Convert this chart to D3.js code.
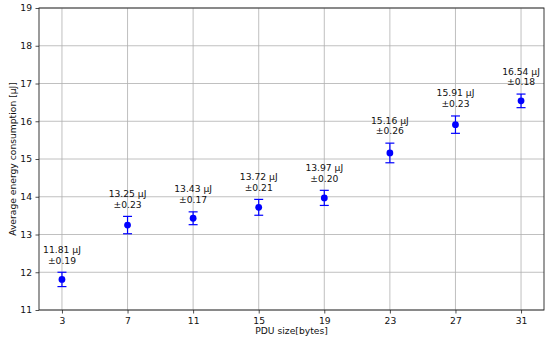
<!DOCTYPE html>
<html><head><meta charset="utf-8">
<script src="https://cdn.jsdelivr.net/npm/d3@7"></script>
<style>body{margin:0;background:#fff}svg{display:block}text{font-family:"DejaVu Sans",sans-serif}</style>
</head><body>
<svg id="c" width="550" height="345"></svg>
<script>
const pduSizes = [3, 7, 11, 15, 19, 23, 27, 31];
const energyMean = [11.81, 13.25, 13.43, 13.72, 13.97, 15.16, 15.91, 16.54];
const energyErr = [0.19, 0.23, 0.17, 0.21, 0.20, 0.26, 0.23, 0.18];
const yTicks = [11, 12, 13, 14, 15, 16, 17, 18, 19];

const svg = d3.select("#c");
const L = 39, R = 544, T = 8, B = 310;
const FS = 9.2;
const x = d3.scaleLinear().domain([1.6, 32.4]).range([L, R]);
const y = d3.scaleLinear().domain([11, 19]).range([B, T]);

// grid
const g = svg.append("g");
g.selectAll("line.vx").data(pduSizes).join("line")
  .attr("x1", d => x(d)).attr("x2", d => x(d)).attr("y1", T).attr("y2", B)
  .attr("stroke", "#b0b0b0").attr("stroke-width", 0.8);
g.selectAll("line.hy").data(yTicks).join("line")
  .attr("y1", d => y(d)).attr("y2", d => y(d)).attr("x1", L).attr("x2", R)
  .attr("stroke", "#b0b0b0").attr("stroke-width", 0.8);

// axes
const xa = svg.append("g").attr("transform", `translate(0,${B})`)
  .call(d3.axisBottom(x).tickValues(pduSizes).tickSize(3.5).tickPadding(3.5).tickFormat(d3.format("d")));
const ya = svg.append("g").attr("transform", `translate(${L},0)`)
  .call(d3.axisLeft(y).tickValues(yTicks).tickSize(3.5).tickPadding(3.5).tickFormat(d3.format("d")));
[xa, ya].forEach(a => {
  a.select(".domain").remove();
  a.selectAll("text").attr("font-size", FS).attr("fill", "#111").style("font-family", "DejaVu Sans");
  a.selectAll("line").attr("stroke", "#222").attr("stroke-width", 0.8);
});
svg.append("rect").attr("x", L).attr("y", T).attr("width", R - L).attr("height", B - T)
  .attr("fill", "none").attr("stroke", "#222").attr("stroke-width", 0.9);

// error bars
const data = pduSizes.map((p, i) => ({p, m: energyMean[i], e: energyErr[i]}));
const eb = svg.append("g").attr("stroke", "#0000ff").attr("stroke-width", 1.2);
data.forEach(d => {
  eb.append("line").attr("x1", x(d.p)).attr("x2", x(d.p)).attr("y1", y(d.m - d.e)).attr("y2", y(d.m + d.e));
  eb.append("line").attr("x1", x(d.p) - 4.5).attr("x2", x(d.p) + 4.5).attr("y1", y(d.m - d.e)).attr("y2", y(d.m - d.e));
  eb.append("line").attr("x1", x(d.p) - 4.5).attr("x2", x(d.p) + 4.5).attr("y1", y(d.m + d.e)).attr("y2", y(d.m + d.e));
});
svg.append("g").selectAll("circle").data(data).join("circle")
  .attr("cx", d => x(d.p)).attr("cy", d => y(d.m)).attr("r", 3.4).attr("fill", "#0000ff");

// annotations
const an = svg.append("g").attr("font-size", FS).attr("fill", "#111").attr("text-anchor", "middle");
data.forEach(d => {
  const yt = y(d.m + d.e);
  an.append("text").attr("x", x(d.p)).attr("y", yt - 19.5).text(d.m.toFixed(2) + " μJ");
  an.append("text").attr("x", x(d.p)).attr("y", yt - 8.7).text("±" + d.e.toFixed(2));
});

// axis labels
svg.append("text").attr("x", (L + R) / 2).attr("y", 334).attr("text-anchor", "middle")
  .attr("font-size", FS).attr("fill", "#111").text("PDU size[bytes]");
svg.append("text").attr("transform", `translate(16,${(T + B) / 2}) rotate(-90)`).attr("text-anchor", "middle")
  .attr("font-size", FS).attr("fill", "#111").text("Average energy consumption [μJ]");
</script>
</body></html>
